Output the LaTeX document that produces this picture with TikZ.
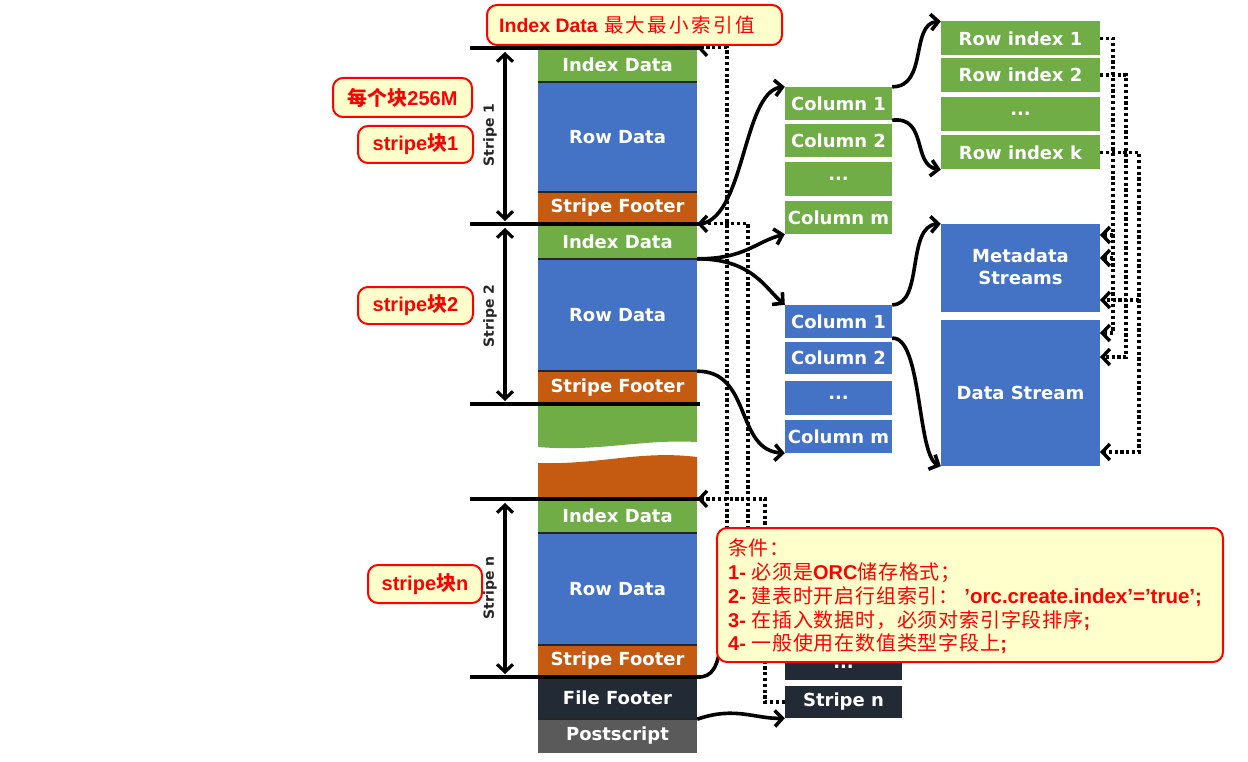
\documentclass[tikz,border=0pt]{standalone}
\usepackage{fontspec}
\setmainfont{DejaVu Sans}
\newfontfamily\mylat{Liberation Sans}
\newfontfamily\mycjk{Noto Sans CJK SC}[LetterSpace=4]
\newfontfamily\mycjkb{Noto Sans CJK SC}
\newfontfamily\mycjkw{Noto Sans CJK SC}[LetterSpace=12]
\usetikzlibrary{arrows.meta}
\definecolor{ggreen}{HTML}{70AD47}
\definecolor{gblue}{HTML}{4472C4}
\definecolor{gorange}{HTML}{C55A11}
\definecolor{gdark}{HTML}{222A35}
\definecolor{ggray}{HTML}{5A5A5A}
\definecolor{noteyellow}{HTML}{FFFFCC}
\definecolor{notered}{HTML}{FF0000}
\definecolor{labgray}{HTML}{262626}
\newcommand\LT[1]{{\mylat\bfseries #1}}
\newcommand\CJ[1]{{\mycjk #1}}
\newcommand\CJB[1]{{\mycjkb\bfseries #1}}
\begin{document}
\begin{tikzpicture}[x=1pt,y=-1pt,
  blk/.style={inner sep=0pt, text=white, font=\fontsize{18}{20}\selectfont\bfseries, align=center},
  colbox/.style={blk, minimum width=107pt, minimum height=33pt},
  rowbox/.style={blk, minimum width=159pt, minimum height=34pt},
  mainbox/.style={blk, minimum width=159pt},
  sepline/.style={line width=2.4pt, draw=black!85},
  stripeline/.style={line width=4.5pt, draw=black},
  barb/.tip={Straight Barb[length=7.5pt,width=16pt]},
  dimarr/.style={line width=3.2pt, barb-barb},
  arr/.style={line width=3.6pt, -barb},
  curveln/.style={line width=3.6pt},
  dotln/.style={line width=3.4pt, dash pattern=on 3.2pt off 2.6pt},
  dotarr/.style={dotln, -barb},
  callout/.style={draw=notered, line width=2pt, fill=noteyellow, rounded corners=10pt, inner sep=0pt, text=notered},
  stlabel/.style={rotate=90, text=labgray, font=\fontsize{14}{16}\selectfont\bfseries}
]
\fill[white] (0,0) rectangle (1248,762);
\useasboundingbox (0,0) rectangle (1248,762);

% ---------- main column ----------
\node[mainbox, fill=ggreen, minimum height=34pt] (ida) at (617.5,65) {Index Data};
\node[mainbox, fill=gblue, minimum height=110pt] (rda) at (617.5,137) {Row Data};
\node[mainbox, fill=gorange, minimum height=32pt] (sfa) at (617.5,208) {Stripe Footer};
\node[mainbox, fill=ggreen, minimum height=35pt] (idb) at (617.5,241.5) {Index Data};
\node[mainbox, fill=gblue, minimum height=112pt] (rdb) at (617.5,315) {Row Data};
\node[mainbox, fill=gorange, minimum height=33pt] (sfb) at (617.5,387.5) {Stripe Footer};
\fill[ggreen] (538,406) -- (697,406) -- (697,442) .. controls (640,439) and (600,452) .. (538,447) -- cycle;
\fill[gorange] (538,463) .. controls (600,465) and (640,450) .. (697,457) -- (697,499) -- (538,499) -- cycle;
\node[mainbox, fill=ggreen, minimum height=34pt] (idn) at (617.5,516) {Index Data};
\node[mainbox, fill=gblue, minimum height=112pt] (rdn) at (617.5,589) {Row Data};
\node[mainbox, fill=gorange, minimum height=32pt] (sfn) at (617.5,661) {Stripe Footer};
\node[mainbox, fill=gdark, minimum height=42pt] (ff) at (617.5,698) {File Footer};
\node[mainbox, fill=ggray, minimum height=34pt] (ps) at (617.5,736) {Postscript};

\foreach \n in {ida,rda,idb,rdb,idn,rdn,ff}{\draw[sepline] (\n.south west) -- (\n.south east);}

% stripe boundary lines
\coordinate (l1) at (470,48);  \coordinate (r1c) at (700,48);
\coordinate (l2) at (470,224); \coordinate (r2c) at (700,224);
\coordinate (l3) at (470,404); \coordinate (r3c) at (700,404);
\coordinate (l4) at (470,499); \coordinate (r4c) at (700,499);
\coordinate (l5) at (470,677); \coordinate (r5c) at (700,677);
\draw[stripeline] (l1) -- (r1c);
\draw[stripeline] (l2) -- (r2c);
\draw[stripeline] (l3) -- (r3c);
\draw[stripeline] (l4) -- (r4c);
\draw[stripeline] (l5) -- (r5c);

% dimension arrows
\coordinate (da1) at (505,52);  \coordinate (db1) at (505,221);
\coordinate (da2) at (505,228); \coordinate (db2) at (505,401);
\coordinate (da3) at (505,503); \coordinate (db3) at (505,674);
\draw[dimarr] (da1) -- (db1);
\draw[dimarr] (da2) -- (db2);
\draw[dimarr] (da3) -- (db3);
\node[stlabel] (st1) at (490,135) {Stripe 1};
\node[stlabel] (st2) at (490,316) {Stripe 2};
\node[stlabel] (stn) at (490,588) {Stripe n};

% ---------- column groups ----------
\node[colbox, fill=ggreen] (g1) at (838.5,103.5) {Column 1};
\node[colbox, fill=ggreen] (g2) at (838.5,140.5) {Column 2};
\node[colbox, fill=ggreen, minimum height=34pt] (gd) at (838.5,179) {...};
\node[colbox, fill=ggreen] (gm) at (838.5,217.5) {Column m};

\node[colbox, fill=gblue] (b1) at (838.5,321.5) {Column 1};
\node[colbox, fill=gblue, minimum height=32pt] (b2) at (838.5,358) {Column 2};
\node[colbox, fill=gblue, minimum height=34pt] (bd) at (838.5,398) {...};
\node[colbox, fill=gblue] (bm) at (838.5,436.5) {Column m};

\node[rowbox, fill=ggreen] (ri1) at (1020.5,38.5) {Row index 1};
\node[rowbox, fill=ggreen] (ri2) at (1020.5,75) {Row index 2};
\node[rowbox, fill=ggreen] (rid) at (1020.5,114) {...};
\node[rowbox, fill=ggreen] (rik) at (1020.5,152.5) {Row index k};

\node[mainbox, fill=gblue, minimum height=88pt] (meta) at (1020.5,268) {};
\node[blk] (metat) at (1020.5,267) {Metadata\\[2pt]Streams};
\node[mainbox, fill=gblue, minimum height=146pt] (data) at (1020.5,393) {Data Stream};

% file footer expansion
\node[blk, fill=gdark, minimum width=117pt, minimum height=26pt] (kd) at (843.5,667) {...};
\node[blk, fill=gdark, minimum width=117pt, minimum height=32pt] (kn) at (843.5,702) {Stripe n};

% ---------- solid curved arrows ----------
\draw[arr] (sfa.south east) .. controls (745,224) and (742,92) .. (g1.north west);
\draw[arr] (rdb.north east) .. controls (745,259) and (755,242) .. (gm.south west);
\draw[arr] (rdb.north east) .. controls (752,259) and (765,288) .. (b1.north west);
\draw[arr] (rdb.south east) .. controls (752,371) and (735,450) .. (bm.south west);
\draw[arr] (g1.north east) .. controls (928,87) and (910,24) .. (ri1.north west);
\draw[arr] (g1.south east) .. controls (928,116) and (912,165) .. (rik.south west);
\draw[arr] (b1.north east) .. controls (924,305) and (906,226) .. (meta.north west);
\draw[arr] (b1.south east) .. controls (922,336) and (917,455) .. (data.south west);
\coordinate (fe) at (722,640);
\draw[curveln] (sfn.south east) .. controls (713,677) and (717,668) .. (fe);
\draw[arr] (ff.south east) .. controls (735,706) and (755,719) .. (kn.south west);

% ---------- dotted pointers ----------
\coordinate (p1) at (727,535);
\coordinate (p2) at (748,535);
\coordinate (p3) at (765,702);
\draw[dotarr] (p1) |- (ida.north east);
\draw[dotarr] (p2) |- (idb.north east);
\draw[dotarr] (kn.west) -- (p3) |- (idn.north east);

\coordinate (ta1) at (1113,38.5);  \coordinate (ta2) at (1113,333);
\coordinate (tb1) at (1126,75);    \coordinate (tb2) at (1126,357);
\coordinate (tc1) at (1139,152.5); \coordinate (tc2) at (1139,452);
\coordinate (ea) at (1100,333); \coordinate (eb) at (1100,357); \coordinate (ec) at (1100,452);
\coordinate (ba1) at (1113,235); \coordinate (bea1) at (1100,235);
\coordinate (ba2) at (1113,258); \coordinate (bea2) at (1100,258);
\coordinate (bc1) at (1139,300); \coordinate (bec1) at (1100,300);
\draw[dotarr] (ri1.east) -- (ta1) -- (ta2) -- (ea);
\draw[dotarr] (ri2.east) -- (tb1) -- (tb2) -- (eb);
\draw[dotarr] (rik.east) -- (tc1) -- (tc2) -- (ec);
\draw[dotarr] (ba1) -- (bea1);
\draw[dotarr] (ba2) -- (bea2);
\draw[dotarr] (bc1) -- (bec1);

% ---------- callouts ----------
\node[callout, minimum width=295pt, minimum height=40pt] (cidx) at (634.5,25) {};
\node[anchor=west, inner sep=0pt, text=notered] (cidxt) at (499,25)
  {\fontsize{19.5}{22}\selectfont\LT{Index Data} {\mycjkw 最大最小索引值}};
\node[callout, minimum width=139pt, minimum height=39pt, font=\fontsize{20}{22}\selectfont] (c256) at (402.5,97.5) {\CJB{每个块}\LT{256M}};
\node[callout, minimum width=115pt, minimum height=37pt, font=\fontsize{20}{22}\selectfont] (cs1) at (415.5,144.5) {\LT{stripe}\CJB{块}\LT{1}};
\node[callout, minimum width=115pt, minimum height=37pt, font=\fontsize{20}{22}\selectfont] (cs2) at (415.5,305.5) {\LT{stripe}\CJB{块}\LT{2}};
\node[callout, minimum width=114pt, minimum height=38pt, font=\fontsize{20}{22}\selectfont] (csn) at (425,584) {\LT{stripe}\CJB{块}\LT{n}};

\node[callout, minimum width=506pt, minimum height=134pt] (cond) at (970,595) {};
\node[anchor=west, inner sep=0pt, text=notered, align=left, font=\fontsize{20}{23.75}\selectfont] (condt) at (728,596.5)
  {\CJ{条件：}\\
   \LT{1- }\CJ{必须是}\LT{ORC}\CJ{储存格式；}\\
   \LT{2- }\CJ{建表时开启行组索引：}{\fontsize{20.5}{23.75}\selectfont\LT{ ’orc.create.index’=’true’;}}\\
   \LT{3- }\CJ{在插入数据时，必须对索引字段排序}\LT{;}\\
   \LT{4- }\CJ{一般使用在数值类型字段上}\LT{;}};
\end{tikzpicture}
\end{document}
